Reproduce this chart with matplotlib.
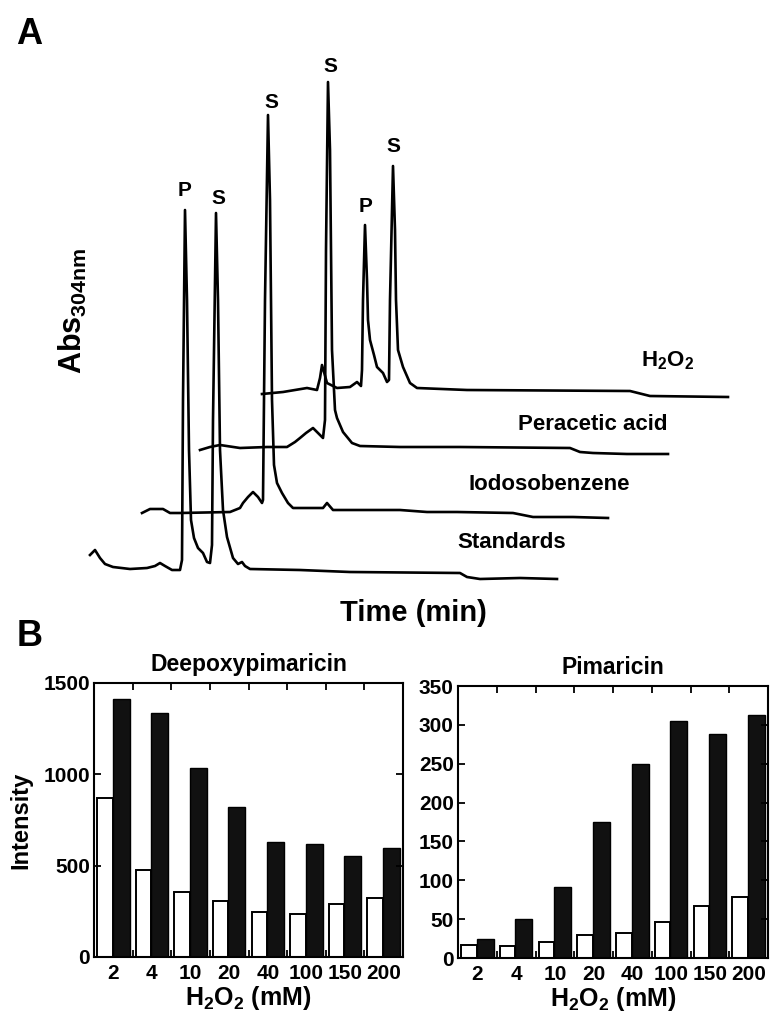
import matplotlib
matplotlib.use("Agg")
import matplotlib.pyplot as plt
import numpy as np

plt.rcParams['font.family'] = ['Liberation Sans', 'DejaVu Sans']
plt.rcParams['font.weight'] = 'bold'
plt.rcParams['axes.titleweight'] = 'bold'
plt.rcParams['axes.labelweight'] = 'bold'
plt.rcParams['mathtext.fontset'] = 'custom'
plt.rcParams['mathtext.rm'] = 'Liberation Sans:bold'
plt.rcParams['mathtext.it'] = 'Liberation Sans:bold'
plt.rcParams['mathtext.bf'] = 'Liberation Sans:bold'

# --- panel A: chromatogram traces (image units) ---
std_t = [90, 95, 100, 105, 113, 130, 147, 155, 160, 165, 172, 180, 182, 183, 185, 187, 189, 191, 194, 198,
         203, 207, 210, 212, 213, 216, 218, 220, 223, 227, 233, 238, 242, 245, 250, 300, 350, 460, 467, 480, 520, 557]
std_a = [555, 550, 558, 564, 567, 569, 568, 566, 563, 566, 570, 570, 560, 400, 210, 300, 450, 520, 538, 548,
         553, 562, 563, 545, 420, 213, 300, 450, 510, 537, 558, 564, 562, 566, 569, 570, 572, 573, 577, 579, 578, 579]

iodo_t = [142, 150, 163, 170, 180, 230, 240, 243, 248, 253, 258, 262, 263, 265, 268, 270, 272, 274, 277, 282,
          288, 293, 323, 327, 333, 400, 427, 457, 513, 533, 573, 608]
iodo_a = [513, 509, 509, 513, 513, 512, 508, 503, 497, 492, 497, 503, 500, 300, 115, 200, 400, 465, 483, 493,
          503, 508, 508, 503, 510, 510, 512, 512, 513, 517, 517, 518]

perac_t = [200, 210, 220, 240, 267, 287, 295, 300, 306, 313, 320, 323, 325, 326, 328, 330, 332, 335, 337, 343,
           352, 360, 400, 460, 570, 580, 593, 627, 668]
perac_a = [450, 447, 445, 448, 447, 447, 442, 438, 433, 428, 435, 438, 420, 250, 82, 150, 350, 410, 418, 432,
           443, 446, 447, 447, 448, 452, 453, 454, 454]

h2o2_t = [262, 283, 307, 317, 320, 322, 324, 327, 337, 350, 357, 361, 362, 363, 365, 367, 368, 370, 374, 377,
          383, 387, 389, 390, 393, 395, 396, 398, 403, 410, 417, 467, 630, 650, 728]
h2o2_a = [394, 392, 388, 390, 378, 365, 372, 383, 388, 387, 382, 386, 370, 300, 225, 280, 320, 340, 355, 367,
          373, 382, 380, 300, 166, 230, 300, 350, 367, 383, 388, 390, 391, 396, 397]

trace_names = ['Standards', 'Iodosobenzene', 'Peracetic acid', 'H$_2$O$_2$']
peak_names = ['P', 'S', 'S', 'S', 'P', 'S']

# --- panel B: bar data ---
conc = ['2', '4', '10', '20', '40', '100', '150', '200']
deepoxy_white = [872, 476, 354, 307, 245, 234, 290, 321]
deepoxy_black = [1411, 1337, 1036, 823, 631, 617, 553, 595]
pima_white = [17, 16, 21, 30, 32, 46, 67, 79]
pima_black = [24, 50, 91, 175, 250, 305, 288, 313]

fig = plt.figure(figsize=(7.81, 10.36), dpi=100)

# chromatogram panel, drawn in image-like units
axA = fig.add_axes([0, 1 - 600 / 1036, 1, 600 / 1036])
axA.set_xlim(0, 781)
axA.set_ylim(600, 0)
axA.axis('off')
for t, a in [(std_t, std_a), (iodo_t, iodo_a), (perac_t, perac_a), (h2o2_t, h2o2_a)]:
    axA.plot(t, a, color='black', lw=1.9, solid_joinstyle='round')

lab_pos = [(512, 543), (549, 484), (593, 424), (668, 361)]
for name, (x, y) in zip(trace_names, lab_pos):
    axA.text(x, y, name, ha='center', va='center', fontsize=16)

peak_pos = [(185, 191), (218, 199), (271, 102), (330, 67), (366, 207), (393, 147)]
for name, (x, y) in zip(peak_names, peak_pos):
    axA.text(x, y, name, ha='center', va='center', fontsize=15)

axA.text(29, 34, 'A', ha='center', va='center', fontsize=26)
axA.text(73, 311, 'Abs$_{304nm}$', ha='center', va='center', rotation=90, fontsize=22)
axA.text(413, 613, 'Time (min)', ha='center', va='center', fontsize=21)
fig.text(30 / 781, 1 - 636 / 1036, 'B', ha='center', va='center', fontsize=26)


def bar_panel(ax, white, black, title, yticks):
    x = np.arange(len(conc))
    ax.bar(x - 0.42, white, width=0.40, align='edge', color='white', edgecolor='black', lw=1.4)
    ax.bar(x - 0.02, black, width=0.44, align='edge', color='#111111', edgecolor='black', lw=1.0)
    ax.set_xlim(-0.5, len(conc) - 0.5)
    ax.set_ylim(yticks[0], yticks[-1])
    ax.set_yticks(yticks)
    ax.set_xticks(x)
    ax.set_xticklabels(conc)
    ax.set_xticks(np.arange(0.5, len(conc) - 0.5), minor=True)
    ax.tick_params(axis='x', which='major', length=0, pad=5, labelsize=15)
    ax.tick_params(axis='x', which='minor', direction='in', length=5, width=1.3, top=True, bottom=True)
    ax.tick_params(axis='y', direction='in', length=5, width=1.3, left=True, right=True, pad=3, labelsize=15)
    for s in ax.spines.values():
        s.set_linewidth(1.5)
    ax.set_title(title, fontsize=16.5, pad=9)
    ax.set_xlabel('H$_2$O$_2$ (mM)', fontsize=18, labelpad=1)


ax1 = fig.add_axes([94 / 781, 1 - 957 / 1036, 309 / 781, 274 / 1036])
bar_panel(ax1, deepoxy_white, deepoxy_black, 'Deepoxypimaricin', [0, 500, 1000, 1500])
ax1.set_ylabel('Intensity', fontsize=17, labelpad=8)

ax2 = fig.add_axes([458 / 781, 1 - 958 / 1036, 310 / 781, 272 / 1036])
bar_panel(ax2, pima_white, pima_black, 'Pimaricin', list(range(0, 351, 50)))

fig.savefig('out.png', dpi=100)
